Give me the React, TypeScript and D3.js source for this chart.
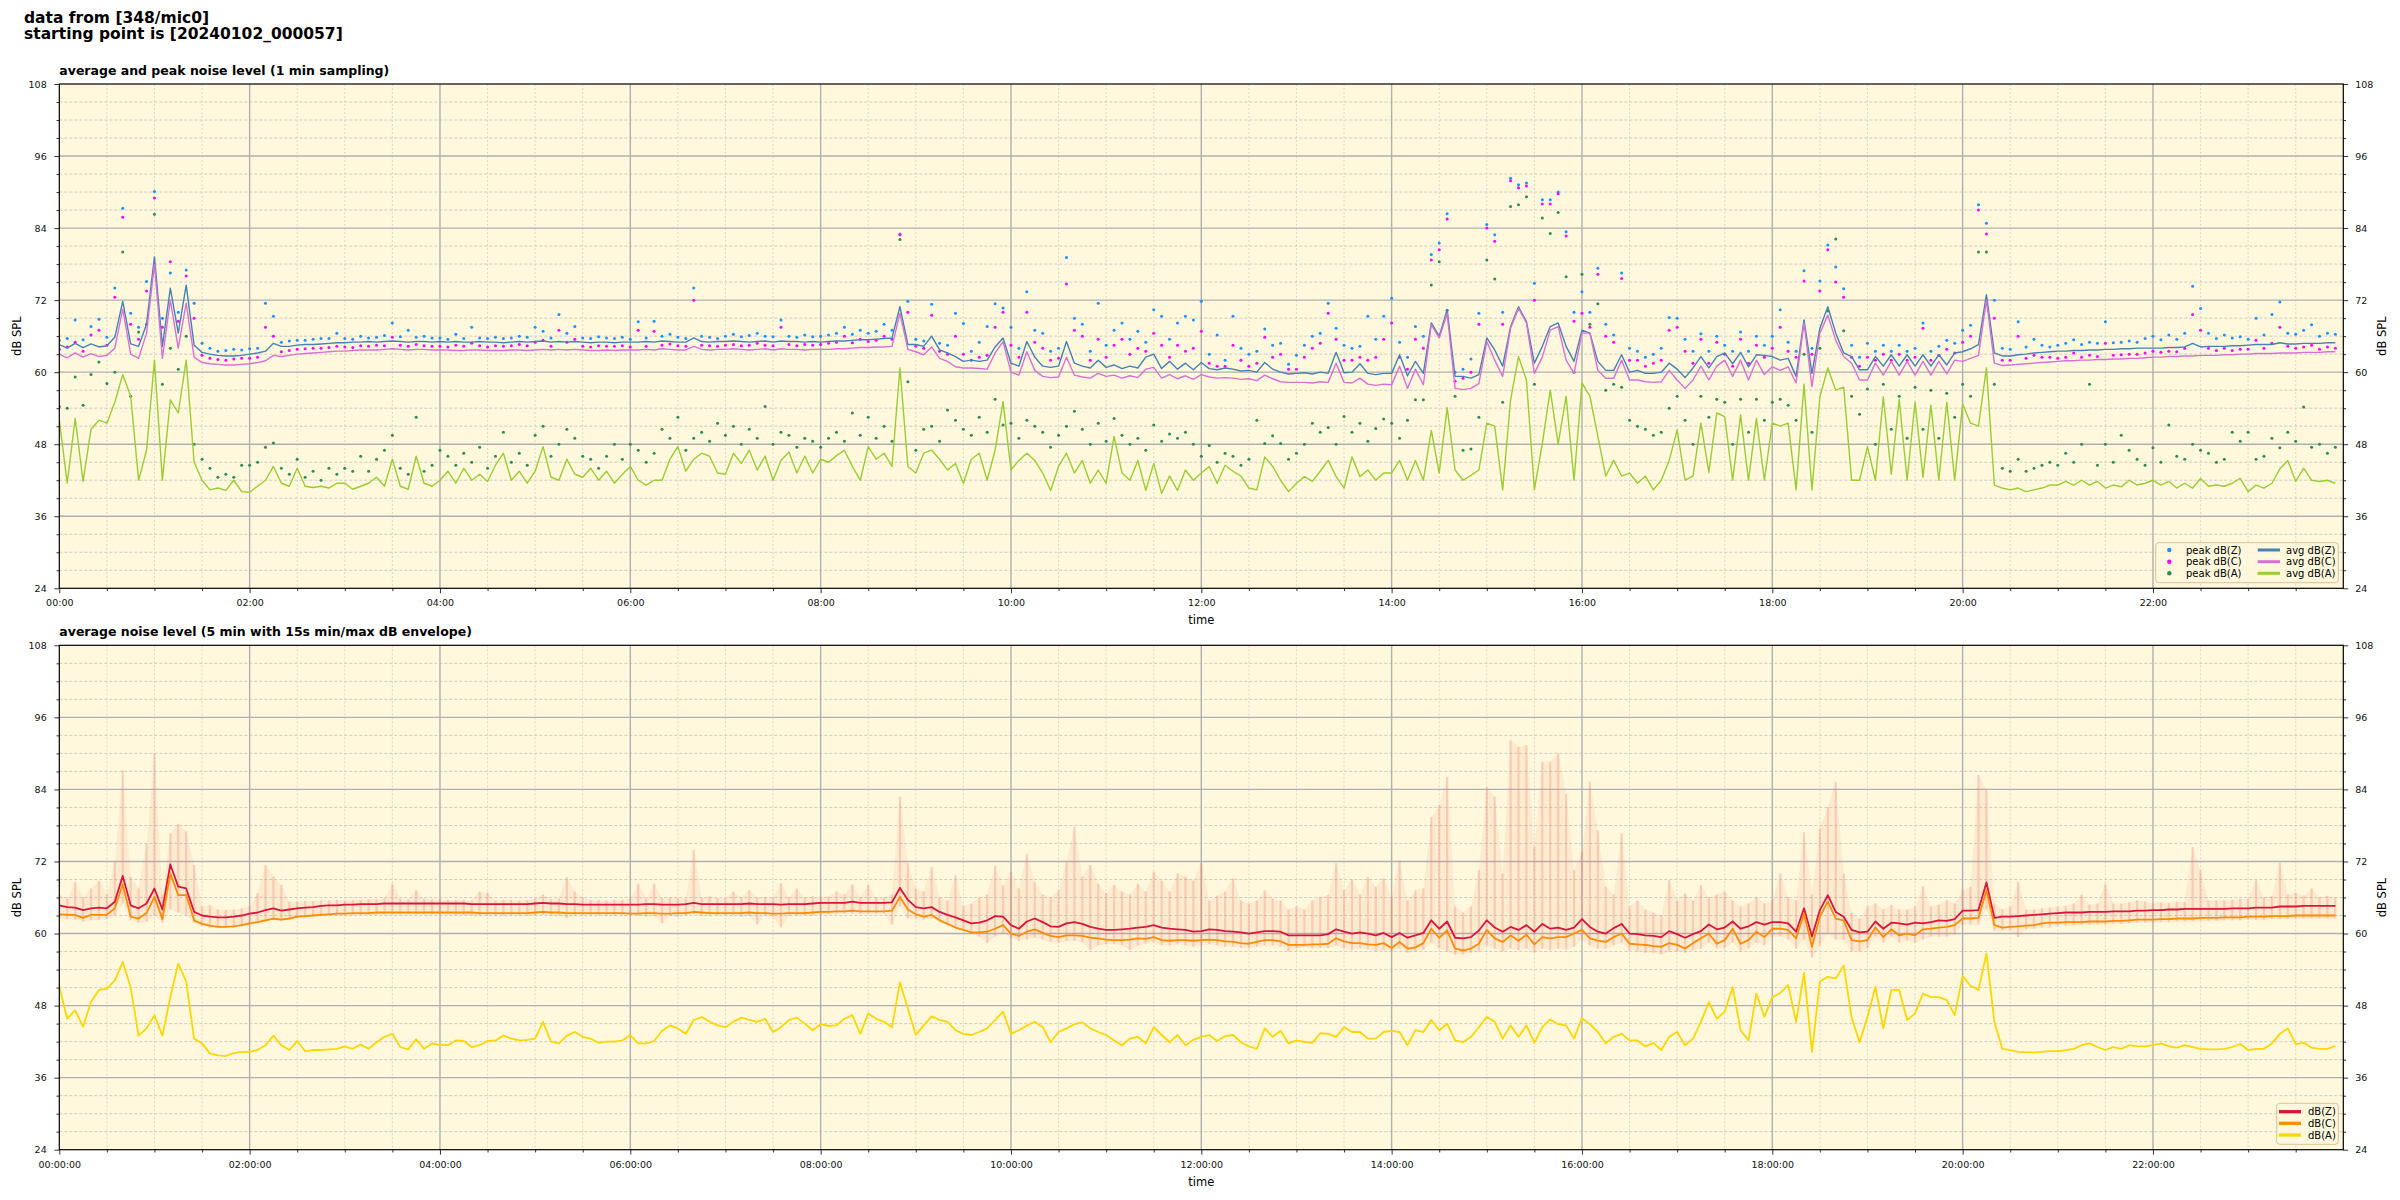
import React, { useEffect, useRef } from 'react';
import * as d3 from 'd3';

// every series: 5 minute slots from 00:00 to 23:55 (one row per hour, 12 values)

// upper panel, average levels
const avgZ = [
  64.6, 64.0, 64.8, 64.1, 64.7, 64.2, 64.4, 65.8, 71.8, 64.7, 64.3, 68.0,
  79.2, 64.3, 74.0, 66.5, 74.5, 64.5, 63.3, 63.0, 62.8, 62.7, 62.7, 62.8,
  63.0, 63.2, 63.5, 64.8, 64.3, 64.3, 64.5, 64.6, 64.6, 64.7, 64.8, 64.9,
  64.9, 65.0, 65.0, 65.1, 65.0, 65.1, 65.2, 65.1, 65.0, 65.1, 65.1, 65.0,
  65.1, 65.0, 65.1, 65.0, 65.0, 65.1, 65.0, 65.0, 64.9, 65.0, 65.1, 65.0,
  65.1, 65.2, 65.0, 65.1, 65.0, 65.1, 65.0, 64.9, 65.0, 65.0, 64.9, 65.0,
  65.0, 65.0, 65.1, 65.0, 65.2, 65.1, 65.0, 65.0, 65.7, 65.1, 65.0, 65.1,
  65.1, 65.2, 65.1, 65.0, 65.1, 65.2, 65.0, 65.2, 65.1, 65.1, 65.0, 65.1,
  65.0, 65.1, 65.2, 65.2, 65.3, 65.4, 65.4, 65.5, 65.6, 65.7, 70.9, 64.6,
  64.6, 64.3, 66.0, 63.7, 63.2, 62.6, 61.8, 62.0, 61.8, 62.0, 64.2, 65.7,
  61.5, 61.0, 65.1, 62.5, 61.0, 60.8, 61.0, 65.1, 61.5, 61.0, 60.7, 62.0,
  60.8, 61.2, 60.6, 61.0, 60.7, 62.5, 63.0, 60.6, 61.8, 60.5, 61.5, 60.4,
  61.6, 60.6, 60.4, 60.7, 60.5, 60.2, 60.3, 60.0, 61.6, 60.5, 60.0, 59.7,
  59.8, 59.9, 59.7, 60.0, 59.8, 63.3, 59.9, 60.0, 61.4, 59.8, 59.6, 59.8,
  59.8, 62.9, 59.4, 61.8, 59.8, 68.2, 66.0, 70.4, 59.3, 59.3, 59.0, 59.6,
  65.7, 63.7, 61.0, 67.6, 70.9, 68.4, 61.5, 64.3, 67.6, 68.2, 64.3, 61.8,
  67.0, 66.5, 61.8, 60.3, 60.3, 62.9, 60.0, 60.3, 59.8, 59.8, 60.0, 61.5,
  60.5, 59.1, 60.7, 62.6, 60.7, 62.6, 63.2, 61.4, 63.3, 60.9, 62.9, 62.8,
  62.6, 62.0, 62.3, 59.3, 68.7, 59.8, 67.3, 70.9, 66.5, 63.2, 62.6, 60.4,
  60.4, 62.6, 61.0, 62.9, 61.0, 62.9, 61.0, 62.9, 61.0, 62.9, 61.2, 63.2,
  63.4, 63.9, 64.6, 72.9, 63.2, 62.7, 62.7, 62.9, 63.0, 63.2, 63.3, 63.4,
  63.5, 63.5, 63.6, 63.6, 63.7, 63.7, 63.8, 63.8, 63.9, 63.9, 64.0, 64.0,
  64.0, 64.0, 64.1, 64.1, 64.2, 64.8, 64.2, 64.3, 64.3, 64.3, 64.4, 64.4,
  64.5, 64.6, 64.6, 64.6, 64.9, 64.7, 64.7, 64.8, 64.8, 64.8, 64.9, 64.9,
];

const avgC = [
  63.0, 62.4, 63.2, 62.5, 63.1, 62.6, 62.8, 64.0, 70.5, 63.0, 62.3, 66.5,
  78.0, 62.3, 72.0, 64.0, 71.5, 62.5, 61.6, 61.4, 61.3, 61.2, 61.2, 61.3,
  61.4, 61.6, 61.9, 62.8, 62.6, 62.8, 63.0, 63.1, 63.2, 63.3, 63.4, 63.5,
  63.5, 63.6, 63.7, 63.7, 63.7, 63.8, 63.9, 63.8, 63.7, 63.8, 63.8, 63.7,
  63.7, 63.7, 63.6, 63.6, 63.7, 63.7, 63.6, 63.6, 63.6, 63.7, 63.7, 63.6,
  63.7, 63.8, 63.7, 63.8, 63.7, 63.8, 63.7, 63.6, 63.6, 63.7, 63.6, 63.7,
  63.7, 63.7, 63.8, 63.7, 63.9, 63.8, 63.7, 63.7, 64.3, 63.8, 63.7, 63.8,
  63.8, 63.9, 63.8, 63.7, 63.8, 63.9, 63.7, 63.9, 63.8, 63.8, 63.7, 63.8,
  63.8, 63.8, 63.9, 63.9, 64.0, 64.1, 64.1, 64.2, 64.2, 64.3, 69.8, 63.8,
  63.4, 62.9, 64.2, 62.3, 61.8, 60.9, 60.7, 60.7, 60.6, 60.5, 63.2, 65.1,
  60.0, 59.5, 63.4, 60.3, 59.3, 59.1, 59.2, 62.5, 59.5, 59.2, 59.0, 59.8,
  59.3, 59.5, 59.0, 59.4, 59.1, 60.5, 60.8, 59.0, 59.6, 58.9, 59.4, 58.8,
  59.6, 59.2, 59.0, 59.1, 59.0, 58.8, 58.9, 58.6, 59.5, 58.9, 58.4, 58.3,
  58.3, 58.3, 58.2, 58.4, 58.3, 61.5, 58.3, 58.2, 59.0, 58.0, 57.8, 58.0,
  57.9, 61.0, 57.3, 60.5, 57.9, 67.9, 65.7, 69.8, 57.3, 57.1, 57.3, 58.1,
  65.1, 62.0, 59.3, 67.3, 70.6, 68.2, 59.8, 62.5, 67.0, 67.6, 62.0, 59.8,
  66.5, 66.5, 60.3, 59.0, 59.0, 62.0, 58.7, 58.7, 58.4, 58.3, 58.4, 60.3,
  58.7, 57.3, 58.7, 61.0, 58.7, 61.0, 62.0, 59.3, 62.0, 58.7, 62.0, 59.6,
  60.9, 60.3, 60.9, 58.2, 68.2, 57.6, 66.5, 69.5, 65.3, 62.6, 61.5, 58.7,
  58.7, 61.5, 59.5, 61.8, 59.5, 61.8, 59.5, 61.8, 59.5, 61.8, 59.7, 62.0,
  61.8, 62.3, 62.8, 72.0, 61.5, 61.1, 61.2, 61.3, 61.4, 61.5, 61.6, 61.7,
  61.8, 61.9, 61.9, 62.0, 62.0, 62.1, 62.1, 62.2, 62.2, 62.3, 62.3, 62.4,
  62.5, 62.5, 62.6, 62.6, 62.7, 62.7, 62.8, 62.8, 62.8, 62.9, 62.9, 63.0,
  63.0, 63.1, 63.1, 63.1, 63.2, 63.2, 63.2, 63.3, 63.3, 63.3, 63.4, 63.4,
];

const avgA = [
  52.0, 41.5, 52.3, 41.8, 50.5, 52.0, 51.5, 55.0, 59.6, 56.0, 42.0, 47.0,
  62.0, 42.0, 55.4, 53.2, 62.0, 45.0, 42.0, 40.4, 40.7, 40.3, 42.0, 40.1,
  40.0, 41.0, 42.0, 44.3, 41.5, 41.0, 44.0, 41.0, 40.8, 41.0, 40.7, 41.5,
  41.5, 40.5, 41.0, 41.5, 42.5, 41.0, 45.5, 41.0, 40.5, 46.0, 41.5, 41.0,
  42.0, 43.5, 41.5, 44.0, 42.0, 43.0, 41.8, 44.5, 46.5, 42.0, 43.5, 41.5,
  43.5, 47.6, 42.5, 42.0, 45.5, 43.0, 42.5, 44.0, 42.0, 43.5, 41.5, 43.0,
  44.3, 42.0, 41.2, 42.0, 42.0, 45.5, 47.6, 43.5, 45.5, 46.5, 46.0, 43.2,
  43.0, 46.5, 44.8, 47.0, 43.7, 46.0, 42.0, 45.3, 46.7, 43.2, 46.0, 43.2,
  45.5, 45.0, 46.1, 47.0, 44.3, 42.0, 47.6, 45.5, 46.5, 44.3, 60.7, 44.3,
  43.2, 46.5, 47.0, 45.5, 43.7, 44.8, 41.5, 45.5, 46.5, 42.0, 47.0, 55.1,
  43.7, 45.3, 46.5, 45.3, 43.2, 40.3, 44.3, 46.5, 43.2, 45.3, 41.5, 43.7,
  41.5, 49.3, 43.2, 42.0, 45.3, 40.3, 44.8, 39.8, 42.7, 40.3, 43.7, 42.0,
  43.2, 44.3, 41.5, 44.5, 43.5, 42.7, 40.7, 40.4, 45.9, 44.3, 42.0, 40.1,
  41.5, 42.6, 41.8, 43.5, 45.3, 42.6, 40.7, 45.9, 42.6, 43.7, 42.0, 43.2,
  43.2, 45.3, 42.0, 45.3, 42.0, 50.3, 43.2, 54.1, 43.7, 42.0, 42.8, 43.7,
  51.5, 51.0, 40.4, 55.4, 62.6, 58.7, 40.4, 48.1, 57.0, 48.0, 56.0, 42.0,
  58.2, 56.0, 49.3, 42.7, 45.3, 42.7, 43.2, 41.5, 42.7, 40.4, 42.0, 45.3,
  50.4, 42.0, 42.7, 51.5, 43.3, 53.2, 52.6, 42.0, 52.9, 42.0, 52.3, 42.0,
  51.5, 51.0, 51.5, 40.4, 58.0, 40.4, 55.9, 60.7, 57.0, 57.5, 42.0, 42.0,
  47.6, 42.0, 55.9, 43.0, 55.5, 42.0, 55.0, 42.5, 54.5, 42.0, 55.0, 42.0,
  54.7, 51.5, 51.0, 60.7, 41.2, 40.7, 40.4, 40.7, 40.1, 40.4, 40.7, 41.2,
  41.2, 41.8, 41.2, 42.0, 41.2, 41.8, 40.7, 41.2, 40.9, 42.0, 41.2, 41.5,
  42.0, 41.2, 41.8, 40.7, 41.5, 40.7, 42.3, 41.0, 41.2, 41.0, 41.5, 42.3,
  40.1, 41.2, 40.7, 41.5, 43.9, 45.3, 41.8, 44.0, 42.0, 41.8, 42.0, 41.5,
];

// upper panel, peak levels
const peakZ = [
  65.3, 65.6, 68.7, 65.4, 67.6, 68.8, 65.8, 74.0, 87.3, 69.8, 67.5, 75.1,
  90.1, 69.0, 76.5, 70.0, 77.0, 71.5, 64.8, 64.0, 63.5, 63.6, 63.8, 63.7,
  63.9, 64.0, 71.5, 69.3, 65.0, 65.2, 65.3, 65.3, 65.5, 65.6, 65.6, 66.5,
  65.6, 65.5, 66.0, 65.7, 65.8, 66.1, 68.2, 65.9, 67.0, 65.8, 66.0, 65.7,
  65.7, 65.5, 66.3, 65.6, 67.5, 65.7, 65.6, 65.8, 65.6, 65.7, 66.0, 65.8,
  67.5, 66.8, 65.7, 69.6, 66.5, 67.6, 65.7, 65.6, 65.9, 65.7, 65.6, 65.8,
  65.5, 68.4, 65.7, 68.5, 66.0, 66.3, 65.8, 65.6, 74.0, 66.0, 65.8, 65.6,
  66.0, 66.3, 65.9, 66.1, 66.5, 66.0, 65.9, 68.7, 66.0, 65.8, 66.2, 65.9,
  66.0, 66.2, 66.5, 67.5, 66.3, 67.0, 66.5, 66.8, 68.0, 67.0, 83.0, 71.8,
  65.5, 65.2, 71.3, 64.8, 64.5, 69.8, 68.1, 63.5, 65.0, 67.6, 71.4, 70.7,
  67.5, 64.0, 73.4, 67.0, 66.5, 63.5, 64.0, 79.1, 69.0, 68.0, 63.5, 71.5,
  64.5, 67.0, 68.2, 65.5, 66.8, 65.0, 70.4, 69.3, 65.5, 68.2, 69.3, 68.7,
  71.8, 63.0, 66.2, 62.0, 69.3, 64.0, 63.0, 63.5, 67.2, 64.5, 64.8, 61.3,
  62.8, 64.5, 66.0, 66.5, 71.5, 67.3, 64.5, 64.0, 64.3, 69.3, 65.5, 69.3,
  72.3, 65.0, 62.5, 67.6, 66.0, 79.6, 81.5, 86.4, 60.0, 60.5, 62.2, 69.8,
  84.6, 82.9, 70.0, 92.3, 91.2, 91.5, 74.8, 88.7, 88.7, 90.0, 83.4, 70.0,
  73.4, 70.0, 77.3, 68.0, 66.2, 76.5, 64.0, 63.5, 62.5, 63.0, 64.0, 69.1,
  69.0, 65.5, 63.5, 66.4, 63.5, 66.0, 64.5, 63.5, 66.7, 63.5, 66.0, 64.5,
  66.0, 70.4, 65.0, 63.5, 76.9, 64.0, 75.2, 81.2, 77.5, 73.9, 64.5, 62.5,
  64.8, 63.5, 64.5, 63.5, 64.5, 63.5, 64.0, 68.2, 63.5, 64.3, 65.3, 64.8,
  67.0, 67.8, 87.9, 84.8, 72.0, 64.0, 63.8, 68.4, 64.2, 65.5, 64.5, 64.2,
  64.5, 64.8, 65.4, 64.6, 65.0, 64.8, 68.4, 64.9, 65.0, 65.2, 65.0, 65.6,
  66.0, 65.4, 66.2, 65.5, 66.5, 74.3, 70.6, 66.5, 65.6, 66.2, 65.7, 65.9,
  65.5, 69.0, 66.2, 69.6, 71.7, 66.5, 66.3, 67.0, 67.9, 66.0, 66.5, 66.3,
];

const peakC = [
  63.8, 64.2, 65.0, 63.5, 66.2, 67.0, 64.5, 72.5, 85.8, 68.0, 65.5, 73.5,
  89.0, 67.5, 78.4, 68.5, 76.0, 69.0, 62.8, 62.3, 62.1, 62.0, 62.2, 62.3,
  62.3, 62.5, 67.5, 66.0, 63.4, 63.6, 63.8, 63.9, 64.0, 64.0, 64.1, 64.3,
  64.2, 64.1, 64.4, 64.3, 64.5, 64.4, 65.8, 64.5, 64.3, 64.6, 64.4, 64.3,
  64.3, 64.2, 64.5, 64.3, 64.8, 64.4, 64.2, 64.4, 64.3, 64.4, 64.6, 64.4,
  65.0, 65.3, 64.3, 67.0, 65.0, 65.5, 64.3, 64.2, 64.4, 64.3, 64.3, 64.4,
  64.2, 67.0, 64.3, 66.8, 64.5, 64.7, 64.4, 64.3, 72.0, 64.5, 64.4, 64.3,
  64.5, 64.6, 64.4, 64.5, 64.8, 64.5, 64.4, 67.5, 64.6, 64.4, 64.6, 64.5,
  64.6, 64.8, 65.0, 66.0, 64.9, 65.5, 65.1, 65.3, 66.0, 65.5, 82.9, 70.0,
  64.3, 64.0, 69.5, 63.5, 63.0, 66.0, 63.0, 62.0, 62.5, 62.8, 67.5, 70.0,
  64.5, 62.5, 70.0, 65.0, 64.0, 62.0, 62.3, 74.7, 67.0, 66.0, 62.0, 65.5,
  62.5, 64.5, 65.5, 63.0, 64.0, 63.5, 66.5, 64.5, 62.5, 64.5, 63.5, 64.0,
  66.8, 61.5, 61.0, 61.0, 64.5, 62.0, 61.0, 61.5, 65.8, 62.5, 63.0, 60.5,
  60.5, 62.5, 64.0, 64.8, 69.8, 65.5, 62.0, 62.0, 62.5, 62.0, 62.5, 65.5,
  68.2, 62.5, 60.5, 65.5, 64.0, 78.7, 80.4, 85.5, 58.5, 59.0, 60.0, 68.0,
  84.0, 81.8, 68.0, 91.9, 90.7, 91.0, 72.0, 88.0, 88.0, 89.7, 82.7, 68.5,
  69.8, 67.5, 76.3, 66.0, 65.0, 75.6, 62.0, 62.0, 61.0, 61.5, 62.0, 67.0,
  67.5, 63.5, 61.5, 65.5, 61.5, 65.0, 63.0, 61.0, 65.5, 61.5, 64.5, 62.5,
  64.0, 67.5, 63.5, 62.5, 75.2, 63.0, 73.5, 80.4, 75.0, 72.5, 62.5, 61.0,
  62.5, 62.0, 63.0, 62.0, 63.0, 62.0, 62.5, 67.3, 62.0, 62.8, 63.8, 63.2,
  65.0, 66.0, 87.0, 83.0, 69.0, 62.0, 62.0, 66.0, 62.3, 62.8, 62.5, 62.5,
  62.3, 62.5, 63.2, 62.5, 62.8, 62.6, 64.8, 62.8, 62.9, 63.0, 63.0, 63.2,
  63.5, 63.3, 63.5, 63.4, 64.0, 69.6, 67.0, 64.0, 63.6, 64.0, 63.6, 63.8,
  63.8, 65.3, 64.0, 64.8, 67.5, 64.3, 64.0, 64.2, 64.5, 63.8, 64.2, 64.0,
];

const peakA = [
  54.3, 54.0, 59.2, 54.5, 59.6, 61.7, 58.1, 60.0, 80.0, 56.0, 66.7, 68.0,
  86.3, 58.0, 64.0, 60.5, 66.0, 48.0, 45.5, 44.0, 42.5, 43.0, 42.5, 44.5,
  44.5, 45.0, 47.5, 48.2, 44.0, 43.0, 45.5, 42.5, 43.5, 42.0, 44.0, 43.0,
  44.0, 43.5, 46.0, 43.5, 45.5, 47.0, 49.5, 44.0, 43.0, 52.5, 43.5, 44.5,
  47.0, 46.0, 44.5, 46.5, 45.0, 47.5, 44.0, 46.0, 50.0, 45.0, 46.5, 44.5,
  49.5, 51.0, 46.0, 48.0, 50.5, 49.0, 46.0, 45.5, 44.0, 46.0, 48.0, 45.5,
  48.0, 47.0, 45.0, 46.5, 50.5, 49.0, 52.5, 47.0, 49.0, 50.0, 48.5, 51.5,
  49.5, 51.0, 48.0, 50.5, 49.0, 54.3, 48.0, 50.0, 49.5, 47.5, 49.0, 48.5,
  47.5, 49.0, 50.0, 48.5, 53.2, 49.5, 52.5, 49.0, 51.0, 48.5, 82.1, 58.4,
  47.0, 50.5, 51.0, 48.5, 53.7, 52.0, 50.5, 49.5, 52.5, 50.0, 55.5, 51.2,
  51.5, 49.0, 52.0, 51.0, 50.0, 47.5, 49.5, 51.0, 53.5, 50.5, 48.0, 51.5,
  48.5, 52.3, 49.5, 48.0, 49.0, 47.0, 51.2, 48.5, 49.7, 49.0, 50.0, 48.0,
  46.0, 47.8, 45.0, 46.5, 46.0, 44.5, 45.5, 52.0, 48.1, 49.4, 48.1, 45.5,
  46.5, 48.0, 51.5, 50.0, 50.8, 48.0, 52.6, 50.0, 51.5, 48.5, 50.6, 52.2,
  51.5, 49.0, 52.0, 55.4, 55.4, 74.5, 78.4, 70.3, 56.0, 47.0, 47.2, 52.5,
  78.7, 75.5, 55.0, 87.6, 87.9, 89.2, 58.0, 85.7, 83.1, 86.6, 75.9, 60.0,
  76.3, 68.0, 71.4, 57.0, 58.0, 57.5, 52.0, 51.0, 50.5, 49.5, 50.0, 54.0,
  56.0, 52.0, 48.0, 56.0, 52.5, 55.5, 55.0, 48.0, 55.5, 50.0, 55.5, 52.0,
  55.0, 55.5, 54.5, 52.0, 63.0, 50.0, 64.0, 70.2, 82.2, 66.9, 56.0, 53.0,
  57.2, 48.0, 58.0, 50.5, 56.0, 49.0, 57.5, 50.5, 57.0, 49.0, 56.5, 52.5,
  58.0, 56.0, 80.0, 80.0, 58.0, 44.0, 43.5, 45.5, 43.5, 44.0, 44.5, 45.0,
  44.5, 46.5, 45.0, 48.0, 58.0, 44.5, 48.0, 45.0, 49.5, 47.0, 45.5, 44.5,
  47.4, 45.0, 51.2, 46.0, 45.5, 48.0, 47.0, 46.5, 45.0, 45.5, 50.0, 48.5,
  50.0, 45.5, 46.0, 49.0, 47.4, 50.0, 48.5, 54.2, 47.5, 48.0, 46.5, 47.5,
];

// lower panel, 5 minute levels
const levelZ = [
  64.7, 64.4, 64.3, 63.9, 64.2, 64.3, 64.2, 65.3, 69.6, 64.7, 64.2, 65.0,
  67.5, 64.0, 71.5, 67.8, 67.5, 63.6, 63.0, 62.8, 62.7, 62.7, 62.8, 63.0,
  63.3, 63.5, 63.9, 64.2, 63.8, 64.0, 64.2, 64.3, 64.4, 64.6, 64.7, 64.7,
  64.8, 64.8, 64.9, 64.9, 64.9, 65.0, 65.0, 65.0, 65.0, 65.0, 65.0, 65.0,
  65.0, 65.0, 65.0, 65.0, 64.9, 64.9, 64.9, 64.9, 64.9, 64.9, 64.9, 64.9,
  65.0, 65.1, 65.0, 65.0, 64.9, 64.9, 64.8, 64.8, 64.8, 64.8, 64.8, 64.8,
  64.8, 64.8, 64.9, 64.9, 64.8, 64.8, 64.8, 64.9, 65.1, 64.9, 64.9, 64.9,
  64.9, 64.9, 64.9, 65.0, 64.9, 64.9, 64.9, 64.8, 64.9, 64.9, 64.9, 65.0,
  65.1, 65.1, 65.1, 65.1, 65.3, 65.1, 65.1, 65.1, 65.1, 65.2, 67.6, 65.6,
  64.4, 64.2, 64.4, 63.6, 63.1, 62.7, 62.2, 61.7, 61.8, 62.2, 62.9, 62.8,
  61.4, 60.8, 62.0, 62.5, 61.9, 61.2, 61.1, 61.7, 61.9, 61.6, 61.1, 60.8,
  60.6, 60.6, 60.7, 60.8, 61.0, 61.1, 61.4, 61.0, 60.8, 60.7, 60.6, 60.3,
  60.4, 60.7, 60.6, 60.4, 60.3, 60.2, 60.0, 60.2, 60.4, 60.4, 60.3, 59.7,
  59.7, 59.7, 59.7, 59.7, 59.9, 60.7, 60.3, 60.0, 60.2, 60.0, 59.7, 60.1,
  59.4, 60.1, 59.3, 59.7, 60.1, 62.2, 60.8, 62.0, 59.3, 59.2, 59.4, 60.5,
  62.2, 61.0, 60.3, 61.1, 60.6, 61.4, 60.3, 61.6, 60.8, 61.0, 60.6, 61.0,
  62.4, 61.1, 60.3, 60.0, 60.9, 61.6, 60.0, 59.9, 59.7, 59.6, 59.4, 60.4,
  59.9, 59.3, 59.9, 60.4, 61.5, 60.7, 61.0, 62.0, 60.8, 61.2, 61.9, 61.5,
  61.9, 61.9, 61.7, 60.3, 64.2, 59.5, 63.9, 66.4, 63.6, 62.8, 60.6, 60.2,
  60.3, 62.0, 60.8, 61.8, 61.7, 61.5, 61.8, 61.7, 61.9, 62.2, 62.1, 62.4,
  63.8, 63.8, 63.9, 68.5, 62.6, 62.8, 62.8, 62.9, 63.0, 63.1, 63.2, 63.3,
  63.4, 63.5, 63.5, 63.5, 63.6, 63.6, 63.6, 63.7, 63.7, 63.7, 63.8, 63.8,
  63.9, 63.9, 64.0, 64.0, 64.1, 64.1, 64.1, 64.1, 64.1, 64.1, 64.2, 64.2,
  64.2, 64.3, 64.3, 64.3, 64.5, 64.5, 64.5, 64.6, 64.6, 64.6, 64.6, 64.6,
];

const levelC = [
  63.2, 63.1, 63.1, 62.6, 63.1, 63.1, 63.1, 64.2, 68.2, 62.8, 62.5, 63.4,
  66.1, 62.4, 70.0, 66.4, 66.4, 62.2, 61.6, 61.3, 61.1, 61.1, 61.2, 61.4,
  61.7, 61.9, 62.2, 62.5, 62.3, 62.5, 62.8, 62.9, 63.0, 63.1, 63.2, 63.3,
  63.3, 63.4, 63.4, 63.4, 63.5, 63.5, 63.5, 63.5, 63.5, 63.5, 63.5, 63.5,
  63.5, 63.5, 63.5, 63.5, 63.5, 63.4, 63.4, 63.4, 63.4, 63.4, 63.4, 63.4,
  63.5, 63.6, 63.5, 63.5, 63.4, 63.4, 63.4, 63.4, 63.4, 63.4, 63.4, 63.4,
  63.3, 63.3, 63.4, 63.4, 63.3, 63.3, 63.4, 63.4, 63.6, 63.5, 63.4, 63.4,
  63.4, 63.4, 63.4, 63.5, 63.4, 63.4, 63.3, 63.3, 63.4, 63.4, 63.4, 63.5,
  63.6, 63.6, 63.7, 63.7, 63.8, 63.7, 63.7, 63.7, 63.7, 63.8, 66.1, 64.0,
  63.2, 62.8, 63.1, 62.2, 61.6, 61.0, 60.6, 60.2, 60.2, 60.3, 60.8, 61.4,
  60.0, 59.6, 60.3, 60.7, 60.1, 59.6, 59.4, 59.7, 59.7, 59.6, 59.3, 59.2,
  59.0, 58.9, 58.9, 59.0, 59.2, 59.1, 59.4, 58.9, 58.8, 58.9, 58.9, 58.8,
  58.9, 59.0, 58.9, 58.7, 58.6, 58.4, 58.3, 58.6, 58.9, 58.9, 58.7, 58.1,
  58.1, 58.1, 58.2, 58.2, 58.3, 59.2, 58.7, 58.4, 58.4, 58.2, 58.1, 58.4,
  57.6, 58.6, 57.5, 57.7, 58.4, 60.8, 59.3, 60.5, 57.5, 57.2, 57.5, 58.3,
  60.6, 59.2, 58.6, 59.7, 58.8, 59.8, 58.2, 59.4, 59.2, 59.4, 59.4, 60.0,
  60.6, 59.2, 58.8, 58.6, 59.4, 60.0, 58.3, 58.2, 58.1, 57.9, 57.8, 58.4,
  58.1, 57.5, 58.4, 59.2, 60.0, 58.3, 58.9, 60.8, 58.3, 58.9, 60.3, 59.4,
  60.8, 60.8, 60.6, 59.2, 63.3, 57.8, 62.8, 65.3, 62.5, 62.2, 58.9, 58.7,
  58.9, 61.0, 59.4, 60.7, 59.7, 60.0, 59.7, 60.7, 60.8, 61.0, 61.1, 61.4,
  62.5, 62.5, 62.6, 67.2, 61.4, 61.0, 61.1, 61.2, 61.3, 61.4, 61.7, 61.8,
  61.8, 61.9, 61.9, 61.9, 62.0, 62.0, 62.0, 62.1, 62.1, 62.2, 62.3, 62.3,
  62.3, 62.4, 62.4, 62.5, 62.5, 62.5, 62.6, 62.6, 62.6, 62.7, 62.7, 62.7,
  62.8, 62.8, 62.8, 62.9, 62.9, 62.9, 63.0, 63.0, 63.0, 63.0, 63.0, 63.0,
];

const levelA = [
  51.1, 45.8, 47.2, 44.5, 48.6, 50.6, 50.8, 52.2, 55.3, 51.0, 43.0, 44.2,
  46.4, 43.0, 49.4, 55.0, 52.0, 42.5, 41.7, 40.0, 39.7, 39.6, 40.1, 40.3,
  40.3, 40.6, 41.4, 43.0, 41.4, 40.6, 42.1, 40.4, 40.6, 40.6, 40.7, 40.8,
  41.2, 40.8, 41.5, 40.8, 41.9, 42.8, 43.3, 41.1, 40.7, 42.4, 40.8, 41.7,
  41.4, 41.4, 42.2, 42.1, 41.1, 41.4, 42.1, 42.2, 43.0, 42.5, 42.2, 42.3,
  42.5, 45.3, 42.0, 41.7, 43.0, 43.6, 42.8, 42.5, 41.8, 42.0, 42.0, 42.2,
  43.1, 41.7, 41.7, 42.1, 43.8, 44.7, 44.2, 43.3, 45.6, 46.1, 45.3, 44.7,
  44.4, 45.3, 46.0, 45.6, 45.3, 45.8, 43.6, 44.4, 45.6, 46.0, 45.0, 43.9,
  44.9, 44.6, 44.7, 45.8, 46.4, 43.3, 46.7, 45.8, 45.3, 44.4, 51.9, 47.5,
  43.1, 44.7, 46.2, 45.6, 45.3, 43.9, 43.3, 43.1, 43.6, 44.2, 45.6, 47.0,
  43.3, 43.9, 44.7, 45.3, 44.4, 41.9, 43.6, 44.2, 44.9, 45.2, 44.2, 43.6,
  43.1, 42.2, 41.4, 42.5, 42.8, 41.7, 44.4, 43.1, 41.9, 43.1, 41.4, 42.3,
  42.8, 43.1, 42.1, 42.9, 43.1, 41.9, 41.2, 40.8, 44.2, 42.8, 43.8, 41.7,
  42.2, 41.9, 41.8, 43.4, 43.3, 42.8, 44.4, 43.6, 43.6, 42.5, 42.5, 43.6,
  43.8, 43.6, 41.4, 43.9, 43.6, 45.6, 43.9, 45.0, 42.2, 41.9, 42.8, 44.4,
  46.1, 45.3, 42.5, 44.7, 42.8, 44.7, 41.8, 44.4, 45.7, 44.9, 44.7, 42.5,
  45.9, 44.9, 43.6, 41.7, 42.8, 43.3, 42.2, 42.2, 41.2, 41.8, 40.6, 42.8,
  43.6, 41.4, 42.5, 45.3, 48.6, 45.8, 47.0, 51.1, 43.9, 42.2, 50.0, 46.1,
  49.4, 50.1, 51.4, 45.3, 53.5, 40.3, 52.0, 52.8, 52.5, 54.7, 46.0, 41.9,
  46.1, 51.1, 44.2, 50.6, 50.6, 45.6, 46.7, 50.0, 49.4, 49.4, 48.9, 46.4,
  52.9, 51.3, 50.6, 56.7, 45.3, 40.8, 40.6, 40.3, 40.2, 40.2, 40.3, 40.4,
  40.4, 40.6, 40.8, 41.4, 41.7, 41.1, 40.6, 41.1, 40.8, 41.4, 41.2, 41.2,
  41.4, 41.7, 41.2, 41.0, 41.4, 41.1, 40.8, 40.7, 40.7, 40.8, 41.1, 41.6,
  40.6, 40.8, 40.8, 41.7, 43.3, 44.2, 41.6, 41.8, 41.0, 40.8, 40.8, 41.3,
];

// lower panel, 15 s min / max envelope
const envMax = [
  66.5, 65.8, 68.6, 66.0, 67.5, 68.8, 66.5, 72.0, 87.2, 69.5, 67.5, 75.0,
  90.0, 66.5, 76.7, 78.3, 77.0, 71.4, 64.5, 64.7, 64.0, 63.9, 64.0, 64.2,
  64.5, 66.7, 71.4, 69.5, 68.1, 65.3, 65.3, 65.4, 65.4, 65.5, 65.5, 65.6,
  65.5, 65.6, 65.6, 65.7, 65.7, 65.8, 68.3, 65.8, 65.7, 67.2, 65.8, 65.7,
  65.7, 65.6, 65.6, 65.6, 65.5, 67.0, 66.8, 65.5, 65.6, 65.6, 65.5, 65.6,
  65.8, 66.5, 65.7, 65.8, 69.4, 67.0, 66.0, 65.6, 65.6, 65.5, 65.6, 65.6,
  65.8, 68.3, 65.8, 68.3, 65.9, 66.0, 65.9, 65.8, 73.9, 66.0, 66.2, 65.9,
  65.9, 67.0, 66.0, 67.2, 66.0, 66.1, 66.0, 68.4, 66.0, 67.5, 66.0, 66.2,
  66.0, 66.2, 67.0, 66.5, 68.2, 66.0, 68.1, 66.0, 66.0, 66.5, 82.8, 71.7,
  67.5, 67.0, 71.1, 66.0, 65.5, 69.7, 64.5, 65.0, 66.0, 66.5, 71.3, 68.0,
  70.3, 67.5, 73.3, 68.6, 66.5, 66.0, 67.2, 72.0, 77.8, 69.5, 71.4, 68.3,
  66.7, 68.1, 67.0, 66.5, 68.3, 67.0, 70.3, 68.8, 67.0, 70.0, 69.5, 68.8,
  71.7, 65.5, 66.3, 67.0, 69.2, 65.5, 65.0, 65.5, 67.2, 65.8, 65.5, 64.0,
  64.5, 64.0, 65.5, 66.1, 66.4, 71.7, 67.2, 69.0, 66.5, 69.4, 67.8, 69.2,
  66.0, 72.2, 65.5, 67.2, 67.5, 79.4, 81.4, 86.1, 64.5, 63.5, 64.5, 70.6,
  84.4, 82.8, 70.0, 92.2, 91.1, 91.4, 74.4, 88.6, 88.6, 90.0, 83.3, 70.5,
  73.6, 85.3, 77.2, 67.8, 66.5, 76.7, 64.5, 65.5, 64.0, 63.5, 63.0, 68.9,
  65.5, 66.7, 65.5, 68.1, 66.0, 66.5, 67.0, 65.5, 64.5, 65.0, 66.1, 65.0,
  65.5, 70.0, 66.0, 65.5, 76.9, 66.5, 77.5, 81.1, 85.3, 70.0, 63.5, 62.5,
  64.5, 65.0, 64.0, 64.8, 64.0, 64.0, 64.5, 67.9, 64.5, 64.8, 65.5, 65.0,
  67.2, 67.8, 86.4, 83.9, 65.0, 64.0, 64.5, 68.6, 64.0, 64.0, 64.2, 64.3,
  64.5, 64.6, 65.0, 66.5, 64.8, 65.0, 68.3, 65.0, 65.0, 65.2, 65.5, 65.3,
  65.0, 65.2, 65.1, 65.3, 65.3, 74.4, 70.5, 65.5, 65.5, 65.5, 65.6, 65.8,
  65.8, 68.9, 66.0, 66.2, 71.8, 66.5, 66.8, 66.3, 67.5, 66.0, 66.3, 66.0,
];

const envMin = [
  62.5, 62.4, 62.3, 62.0, 62.2, 62.3, 62.4, 63.0, 65.0, 62.2, 61.8, 62.0,
  63.0, 61.8, 64.0, 63.5, 63.0, 61.8, 61.3, 61.0, 61.0, 61.0, 61.0, 61.2,
  61.5, 61.7, 62.0, 62.3, 62.1, 62.4, 62.6, 62.7, 62.8, 62.9, 63.0, 63.0,
  63.0, 63.1, 63.1, 63.1, 63.2, 63.2, 63.2, 63.2, 63.2, 63.2, 63.2, 63.2,
  63.2, 63.2, 63.1, 63.1, 63.1, 63.0, 63.0, 63.0, 63.0, 63.0, 63.0, 63.0,
  63.0, 63.1, 63.0, 63.0, 62.6, 63.0, 63.0, 63.0, 63.0, 63.0, 63.0, 63.0,
  63.0, 63.0, 62.8, 62.9, 61.7, 63.0, 62.8, 63.0, 63.2, 63.0, 63.0, 63.0,
  63.0, 63.0, 62.8, 62.9, 61.5, 63.0, 62.8, 61.0, 63.0, 63.0, 63.0, 63.0,
  63.2, 63.2, 63.3, 63.3, 63.3, 63.3, 63.3, 63.3, 63.3, 61.5, 64.5, 62.5,
  62.5, 62.3, 62.5, 62.0, 61.5, 61.0, 60.5, 60.0, 59.5, 58.4, 59.5, 60.0,
  59.2, 58.8, 59.0, 59.3, 59.0, 58.6, 58.5, 58.8, 58.8, 58.5, 57.2, 58.0,
  58.2, 58.3, 58.0, 57.2, 58.0, 58.3, 58.5, 58.0, 58.0, 58.2, 58.0, 57.8,
  58.0, 58.2, 58.0, 57.8, 57.8, 57.6, 57.5, 57.8, 58.0, 58.0, 57.8, 57.0,
  57.5, 57.8, 57.5, 57.6, 57.6, 58.0, 57.5, 57.2, 57.6, 57.4, 57.0, 57.2,
  57.0, 57.5, 56.8, 57.0, 57.3, 58.5, 57.5, 57.0, 56.5, 56.5, 56.8, 57.0,
  58.0, 57.5, 57.0, 57.5, 57.2, 57.5, 56.8, 57.5, 57.2, 57.5, 57.3, 57.8,
  59.0, 58.0, 57.5, 57.5, 58.0, 58.5, 57.2, 57.0, 56.8, 56.8, 56.5, 57.0,
  57.0, 56.8, 57.2, 57.5, 58.5, 57.5, 57.5, 58.5, 57.0, 57.5, 58.5, 58.0,
  59.5, 59.5, 59.0, 57.5, 59.0, 56.0, 58.0, 60.0, 59.0, 59.0, 57.0, 57.0,
  57.5, 59.5, 58.5, 59.5, 58.5, 58.8, 58.5, 59.0, 59.5, 59.5, 59.5, 59.8,
  61.5, 61.5, 61.5, 64.0, 60.5, 60.5, 60.5, 59.4, 60.7, 60.8, 61.0, 61.0,
  61.3, 61.3, 61.4, 61.4, 61.5, 61.5, 61.5, 61.6, 61.6, 61.7, 61.8, 61.8,
  61.8, 61.9, 61.9, 62.0, 62.0, 62.0, 62.1, 62.1, 62.1, 62.2, 62.2, 62.2,
  62.3, 62.3, 62.3, 62.4, 62.4, 62.4, 62.5, 62.5, 62.5, 62.5, 62.5, 62.5,
];

const FONT = '"DejaVu Sans", sans-serif';
const X_LEFT = 59.3;
const X_RIGHT = 2343.3;
const majorDb = d3.range(24, 109, 12);
const minorDb = d3.range(24, 109, 3).filter(v => v % 12 !== 0);
const majorMin = d3.range(0, 1440, 120);
const minorMin = d3.range(30, 1440, 30).filter(v => v % 120 !== 0);
const pad2 = (n: number) => String(n).padStart(2, '0');

const App: React.FC = () => {
  const svgRef = useRef<SVGSVGElement | null>(null);

  useEffect(() => {
    const svg = d3.select(svgRef.current);
    svg.selectAll('*').remove();
    svg.style('font-family', FONT);

    const x = d3.scaleLinear().domain([0, 1440]).range([X_LEFT, X_RIGHT]);
    const xs = (i: number) => x(i * 5);

    svg.append('text').attr('x', 24).attr('y', 23).attr('font-size', 15.5).attr('font-weight', 'bold')
      .text('data from [348/mic0]');
    svg.append('text').attr('x', 24).attr('y', 39).attr('font-size', 15.5).attr('font-weight', 'bold')
      .text('starting point is [20240102_000057]');

    // background + grid, returns y scale and a clipped group
    const panel = (top: number, bottom: number, id: string, title: string) => {
      const y = d3.scaleLinear().domain([24, 108]).range([bottom, top]);
      const g = svg.append('g');
      g.append('rect').attr('x', X_LEFT).attr('y', top).attr('width', X_RIGHT - X_LEFT)
        .attr('height', bottom - top).attr('fill', '#fff8dc');

      g.selectAll('.mh').data(minorDb).enter().append('line')
        .attr('x1', X_LEFT).attr('x2', X_RIGHT).attr('y1', d => y(d)).attr('y2', d => y(d))
        .attr('stroke', '#c2c2c2').attr('stroke-width', 0.8).attr('stroke-dasharray', '3,2');
      g.selectAll('.mv').data(minorMin).enter().append('line')
        .attr('x1', d => x(d)).attr('x2', d => x(d)).attr('y1', top).attr('y2', bottom)
        .attr('stroke', '#d2d2c8').attr('stroke-width', 0.8).attr('stroke-dasharray', '2,2');
      g.selectAll('.Mh').data(majorDb.filter(d => d > 24 && d < 108)).enter().append('line')
        .attr('x1', X_LEFT).attr('x2', X_RIGHT).attr('y1', d => y(d)).attr('y2', d => y(d))
        .attr('stroke', '#b0b0b0').attr('stroke-width', 1.4);
      g.selectAll('.Mv').data(majorMin.filter(d => d > 0)).enter().append('line')
        .attr('x1', d => x(d)).attr('x2', d => x(d)).attr('y1', top).attr('y2', bottom)
        .attr('stroke', '#b0b0b0').attr('stroke-width', 1.4);

      g.append('clipPath').attr('id', id).append('rect')
        .attr('x', X_LEFT).attr('y', top).attr('width', X_RIGHT - X_LEFT).attr('height', bottom - top);
      const plot = g.append('g').attr('clip-path', `url(#${id})`);

      svg.append('text').attr('x', X_LEFT).attr('y', top - 9).attr('font-size', 12.5)
        .attr('font-weight', 'bold').text(title);
      return { y, plot };
    };

    const axes = (top: number, bottom: number, y: d3.ScaleLinear<number, number>,
      fmt: (m: number) => string, timeY: number) => {
      const a = svg.append('g');
      const style = (sel: any) => {
        sel.select('.domain').remove();
        sel.attr('font-family', FONT).attr('font-size', 9.5);
        sel.selectAll('line').attr('stroke', '#000').attr('stroke-width', 0.8);
        sel.selectAll('text').attr('fill', '#111');
      };
      a.append('g').attr('transform', `translate(${X_LEFT},0)`)
        .call(d3.axisLeft(y).tickValues(majorDb).tickSize(4.9).tickPadding(7.7).tickFormat(d3.format('d'))).call(style);
      a.append('g').attr('transform', `translate(${X_LEFT},0)`)
        .call(d3.axisLeft(y).tickValues(minorDb).tickSize(2.8).tickFormat(() => '')).call(style);
      a.append('g').attr('transform', `translate(${X_RIGHT},0)`)
        .call(d3.axisRight(y).tickValues(majorDb).tickSize(4.9).tickPadding(7).tickFormat(d3.format('d'))).call(style);
      a.append('g').attr('transform', `translate(${X_RIGHT},0)`)
        .call(d3.axisRight(y).tickValues(minorDb).tickSize(2.8).tickFormat(() => '')).call(style);
      a.append('g').attr('transform', `translate(0,${bottom})`)
        .call(d3.axisBottom(x).tickValues(majorMin).tickSize(4.9).tickPadding(6.2).tickFormat(d => fmt(+d))).call(style);
      a.append('g').attr('transform', `translate(0,${bottom})`)
        .call(d3.axisBottom(x).tickValues(minorMin).tickSize(2.8).tickFormat(() => '')).call(style);

      a.append('rect').attr('x', X_LEFT).attr('y', top).attr('width', X_RIGHT - X_LEFT)
        .attr('height', bottom - top).attr('fill', 'none').attr('stroke', '#000').attr('stroke-width', 1.2);

      const mid = (top + bottom) / 2;
      a.append('text').attr('transform', `translate(21,${mid}) rotate(-90)`).attr('text-anchor', 'middle')
        .attr('font-size', 11.5).text('dB SPL');
      a.append('text').attr('transform', `translate(2386,${mid}) rotate(-90)`).attr('text-anchor', 'middle')
        .attr('font-size', 11.5).text('dB SPL');
      a.append('text').attr('x', (X_LEFT + X_RIGHT) / 2).attr('y', timeY).attr('text-anchor', 'middle')
        .attr('font-size', 11.5).text('time');
    };

    // ---------- upper panel ----------
    const p1 = panel(84, 588.3, 'clip-top', 'average and peak noise level (1 min sampling)');
    const dots = (vals: number[], color: string) => {
      p1.plot.append('g').selectAll('circle').data(vals).enter().append('circle')
        .attr('cx', (_, i) => xs(i)).attr('cy', d => p1.y(d)).attr('r', 1.5).attr('fill', color);
    };
    dots(peakZ, '#1e90ff');
    dots(peakC, '#ff00ff');
    dots(peakA, '#2e8b57');
    const line1 = d3.line<number>().x((_, i) => xs(i)).y(d => p1.y(d));
    [[avgZ, '#4682b4'], [avgC, '#da70d6'], [avgA, '#9acd32']].forEach(([vals, color]) => {
      p1.plot.append('path').datum(vals as number[]).attr('d', line1).attr('fill', 'none')
        .attr('stroke', color as string).attr('stroke-width', 1.4).attr('stroke-linejoin', 'round');
    });
    axes(84, 588.3, p1.y, m => `${pad2(m / 60)}:00`, 624);

    // legend (two columns)
    const lg1 = svg.append('g');
    lg1.append('rect').attr('x', 2155.7).attr('y', 542.7).attr('width', 182.6).attr('height', 40)
      .attr('rx', 3).attr('fill', '#fff8dc').attr('fill-opacity', 0.85).attr('stroke', '#dcc096');
    const rows = [550, 561.7, 573.3];
    [['peak dB(Z)', '#1e90ff'], ['peak dB(C)', '#ff00ff'], ['peak dB(A)', '#2e8b57']].forEach(([t, c], i) => {
      lg1.append('circle').attr('cx', 2169.3).attr('cy', rows[i]).attr('r', 2.2).attr('fill', c);
      lg1.append('text').attr('x', 2186).attr('y', rows[i]).attr('dy', '0.35em').attr('font-size', 10).text(t);
    });
    [['avg dB(Z)', '#4682b4'], ['avg dB(C)', '#da70d6'], ['avg dB(A)', '#9acd32']].forEach(([t, c], i) => {
      lg1.append('line').attr('x1', 2257.7).attr('x2', 2280).attr('y1', rows[i]).attr('y2', rows[i])
        .attr('stroke', c).attr('stroke-width', 3);
      lg1.append('text').attr('x', 2286).attr('y', rows[i]).attr('dy', '0.35em').attr('font-size', 10).text(t);
    });

    // ---------- lower panel ----------
    const p2 = panel(645.3, 1149.7, 'clip-bot', 'average noise level (5 min with 15s min/max dB envelope)');
    // faint band between the envelope limits, then one needle per sample
    const env = d3.area<number>().x((_, i) => xs(i)).y0((_, i) => p2.y(envMin[i])).y1(d => p2.y(d));
    p2.plot.append('path').datum(envMax).attr('d', env).attr('fill', '#f08070').attr('fill-opacity', 0.1);
    p2.plot.append('g').selectAll('line').data(envMax).enter().append('line')
      .attr('x1', (_, i) => xs(i)).attr('x2', (_, i) => xs(i))
      .attr('y1', (_, i) => p2.y(envMin[i])).attr('y2', d => p2.y(d))
      .attr('stroke', '#f08070').attr('stroke-opacity', 0.3).attr('stroke-width', 2.2);
    const line2 = d3.line<number>().x((_, i) => xs(i)).y(d => p2.y(d));
    [[levelZ, '#dc143c'], [levelC, '#ff8c00'], [levelA, '#ffd700']].forEach(([vals, color]) => {
      p2.plot.append('path').datum(vals as number[]).attr('d', line2).attr('fill', 'none')
        .attr('stroke', color as string).attr('stroke-width', 1.8).attr('stroke-linejoin', 'round');
    });
    axes(645.3, 1149.7, p2.y, m => `${pad2(m / 60)}:00:00`, 1186);

    const lg2 = svg.append('g');
    lg2.append('rect').attr('x', 2276.7).attr('y', 1103.3).attr('width', 61.6).attr('height', 41)
      .attr('rx', 3).attr('fill', '#fff8dc').attr('fill-opacity', 0.85).attr('stroke', '#dcc096');
    [['dB(Z)', '#dc143c', 1111.7], ['dB(C)', '#ff8c00', 1123.3], ['dB(A)', '#ffd700', 1135]].forEach(([t, c, yy]) => {
      lg2.append('line').attr('x1', 2279).attr('x2', 2301).attr('y1', yy as number).attr('y2', yy as number)
        .attr('stroke', c as string).attr('stroke-width', 3.3);
      lg2.append('text').attr('x', 2308).attr('y', yy as number).attr('dy', '0.35em').attr('font-size', 10).text(t as string);
    });
  }, []);

  return (
    <div style={{ position: 'absolute', left: 0, top: 0, background: '#fff' }}>
      <svg ref={svgRef} width={2400} height={1200}></svg>
    </div>
  );
};

export default App;
